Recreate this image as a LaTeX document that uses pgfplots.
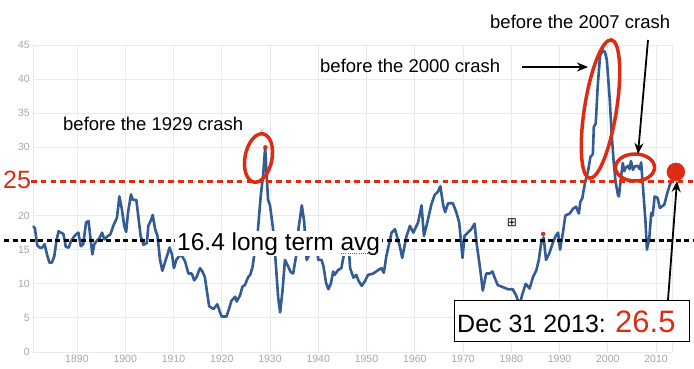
\documentclass[border=0pt]{standalone}
\usepackage{fontspec}
\setmainfont{Liberation Sans}
\newfontfamily\dejavu{DejaVu Sans}
\usepackage{pgfplots}
\pgfplotsset{compat=1.18}
\usetikzlibrary{arrows.meta}
\definecolor{cape}{RGB}{51,92,148}
\definecolor{annred}{RGB}{221,44,20}
\definecolor{gridc}{RGB}{232,232,240}
\definecolor{tickc}{RGB}{165,165,165}

\pgfplotstableread{
year cape
1881.0 18.4
1881.3 18.1
1881.8 15.6
1882.3 15.3
1882.8 15.3
1883.3 15.8
1883.8 14.3
1884.3 13.1
1884.8 13.1
1885.3 14.0
1885.8 16.5
1886.2 17.7
1886.7 17.5
1887.2 17.3
1887.7 15.4
1888.3 15.3
1888.8 16.3
1889.6 17.1
1890.3 17.5
1890.8 15.5
1891.3 15.8
1891.9 19.0
1892.4 19.2
1893.2 14.3
1893.6 15.8
1894.1 16.3
1894.7 16.7
1895.2 17.5
1895.7 16.5
1896.4 17.0
1896.9 17.2
1897.6 18.6
1898.3 19.7
1898.8 22.8
1899.3 21.0
1899.8 18.5
1900.2 17.6
1900.6 20.5
1901.2 23.1
1901.6 22.3
1902.3 22.3
1902.7 20.0
1903.2 17.0
1903.8 15.7
1904.5 16.0
1904.8 18.5
1905.4 19.4
1905.7 20.1
1906.2 18.0
1906.7 17.0
1907.2 13.6
1907.7 11.9
1908.4 13.5
1909.2 15.3
1909.7 14.3
1910.1 12.3
1910.6 13.5
1911.3 14.2
1911.8 14.0
1912.4 13.3
1913.1 11.5
1913.8 11.5
1914.3 10.5
1914.8 11.0
1915.5 12.3
1916.0 11.8
1916.5 11.0
1917.4 6.7
1918.3 6.3
1919.1 7.0
1919.6 5.9
1920.0 5.2
1921.0 5.2
1921.6 6.5
1922.0 7.5
1922.8 8.1
1923.1 7.4
1923.8 8.3
1924.3 9.6
1924.8 9.8
1925.5 11.0
1925.9 11.3
1926.4 12.5
1926.9 15.0
1927.4 17.0
1928.1 23.0
1928.6 26.0
1929.0 30.0
1929.6 22.3
1930.0 21.5
1930.6 18.3
1931.0 15.0
1931.7 8.0
1932.1 5.8
1932.6 9.0
1933.1 13.5
1933.6 12.8
1934.3 11.7
1934.8 11.5
1935.4 14.0
1935.9 18.0
1936.6 21.5
1937.1 19.0
1937.6 13.5
1938.3 14.5
1939.0 16.5
1939.7 16.0
1940.0 13.5
1940.7 13.5
1941.1 12.5
1941.6 10.2
1942.1 9.2
1942.6 10.0
1943.1 11.8
1943.4 11.3
1944.1 12.0
1944.8 12.3
1945.5 15.0
1946.2 16.8
1946.6 12.3
1947.3 10.9
1947.9 11.3
1948.3 10.5
1949.0 9.7
1949.7 10.4
1950.3 11.3
1951.4 11.5
1952.4 12.0
1953.1 12.3
1953.6 11.6
1954.1 14.0
1955.2 17.5
1955.9 18.0
1956.9 15.5
1957.4 13.8
1958.3 17.0
1959.0 18.5
1959.7 17.5
1960.7 19.0
1961.4 21.5
1961.9 17.0
1962.6 19.0
1963.4 21.5
1964.1 23.0
1964.8 23.5
1965.3 24.3
1965.9 21.5
1966.3 20.5
1966.9 21.8
1967.9 21.8
1968.6 20.5
1969.2 19.0
1969.9 13.8
1970.3 17.0
1971.0 17.5
1971.7 18.0
1972.4 18.8
1972.8 16.0
1973.4 13.0
1974.1 9.0
1974.8 11.5
1975.5 11.5
1976.1 11.8
1976.5 11.0
1977.2 9.8
1978.3 9.5
1979.3 9.2
1980.3 9.2
1981.0 8.3
1981.7 6.8
1982.3 8.5
1983.0 10.0
1983.8 9.3
1984.5 11.0
1985.2 12.0
1985.7 13.5
1986.2 16.0
1986.7 16.8
1987.2 13.5
1987.9 14.5
1988.5 15.8
1989.2 17.0
1989.7 17.5
1990.1 15.0
1990.7 17.5
1991.2 20.0
1992.1 20.3
1992.8 21.0
1993.4 21.3
1994.0 20.3
1994.3 22.0
1994.7 22.5
1995.3 24.9
1995.9 26.5
1996.4 28.6
1996.9 29.0
1997.1 33.0
1997.5 33.5
1997.9 38.9
1998.4 43.5
1999.0 44.2
1999.4 44.0
1999.8 42.8
2000.4 37.0
2000.8 32.0
2001.2 28.0
2001.6 25.0
2002.1 23.0
2002.3 22.8
2002.8 26.0
2003.1 27.7
2003.4 26.5
2003.7 27.0
2004.2 27.3
2004.5 26.8
2004.8 28.0
2005.2 26.7
2005.6 27.2
2006.2 27.3
2006.6 26.8
2006.9 27.8
2007.2 25.0
2007.8 19.2
2008.1 15.0
2008.6 16.7
2009.0 20.4
2009.3 20.0
2009.7 22.8
2010.3 22.6
2010.8 21.1
2011.7 21.6
2012.4 23.5
2013.1 25.0
2013.3 25.3
}\capetable

\begin{document}
\begin{tikzpicture}
\useasboundingbox (0,0) rectangle (694pt,368pt);
\begin{axis}[
  at={(33pt,16pt)}, anchor=south west,
  scale only axis, width=639pt, height=307pt,
  xmin=1880.9, xmax=2013.3, ymin=0, ymax=45,
  xtick={1890,1900,...,2010}, ytick={0,5,10,15,20,25,30,35,40,45},
  yticklabels={0,5,10,15,20,,30,35,40,45},
  grid=major, major grid style={draw=gridc, line width=0.8pt},
  axis line style={draw=gridc, line width=0.8pt},
  major tick length=0pt,
  tick label style={font=\fontsize{10.5}{12}\selectfont, text=tickc},
  /pgf/number format/1000 sep={},
  /pgf/number format/assume math mode=true,
  xticklabel style={inner sep=0pt, yshift=-3pt, anchor=north},
  yticklabel style={inner sep=0pt, xshift=-3pt, anchor=east},
  clip=false,
]
\addplot[cape, line width=2.6pt, line join=round, line cap=round] table[x=year, y=cape] {\capetable};
\addplot[annred, line width=2.3pt, dash pattern=on 5.5pt off 4.3pt] coordinates {(1880.5,25) (2018.9,25)};
\addplot[black, line width=2.8pt, dash pattern=on 5pt off 3.5pt] coordinates {(1874.9,16.4) (2018.9,16.4)};
\addplot[only marks, mark=*, mark size=2pt, annred] coordinates {(1929.05,30) (1986.6,17.3)};
\addplot[only marks, mark=*, mark size=9pt, annred] coordinates {(2014.1,26.4)};
\end{axis}
\begin{scope}[x=1pt, y=-1pt, shift={(0pt,368pt)}]
  % 25 label
  \node[anchor=base west, inner sep=0pt, text=annred, font=\fontsize{25}{28}\selectfont] at (3,188) {25};
  % long term avg label
  \node[anchor=base west, inner xsep=2pt, inner ysep=1pt, fill=white, font=\fontsize{24.5}{28}\selectfont] at (175,250) {16.4 long term avg};
  \draw[annred, line width=1pt, dash pattern=on 1pt off 1.2pt] (341,253) -- (378,253);
  % annotations
  \node[anchor=base west, inner sep=0pt, font=\fontsize{18.5}{21}\selectfont] at (63,130) {before the 1929 crash};
  \node[anchor=base west, inner sep=0pt, font=\fontsize{18.5}{21}\selectfont] at (320,72) {before the 2000 crash};
  \node[anchor=base west, inner sep=0pt, font=\fontsize{18.5}{21}\selectfont] at (490,28) {before the 2007 crash};
  \node[inner sep=0pt, text=tickc, font=\fontsize{7}{8}\selectfont] at (262,131) {v};
  \node[inner sep=0pt, font=\dejavu\fontsize{12}{14}\selectfont] at (512,223) {⊞};
  % ellipses
  \draw[annred, line width=3.5pt, rotate around={-11:(258.5,158)}] (258.5,158) ellipse [x radius=13.5, y radius=24.5];
  \draw[annred, line width=3.5pt, rotate around={-9:(600.5,109)}] (600.5,109) ellipse [x radius=16, y radius=70];
  \draw[annred, line width=3.5pt] (635,167.5) ellipse [x radius=19.5, y radius=13.5];
  % arrows
  \draw[line width=1.8pt, -{Stealth[length=11pt, width=9pt]}] (522,67) -- (588,67);
  \draw[line width=1.8pt, -{Stealth[length=11pt, width=9pt]}] (648,40) -- (638,154);
  \draw[line width=1.8pt, -{Stealth[length=11pt, width=9pt]}] (668,300) -- (677,181);
  % date box
  \node[draw=black, line width=1.2pt, fill=white, anchor=north west, minimum width=235pt, minimum height=41pt, inner sep=0pt] at (454,300) {};
  \node[anchor=base west, inner sep=0pt, font=\fontsize{25}{28}\selectfont] at (457,332) {Dec 31 2013: \textcolor{annred}{\fontsize{31}{34}\selectfont 26.5}};
\end{scope}
\end{tikzpicture}
\end{document}
